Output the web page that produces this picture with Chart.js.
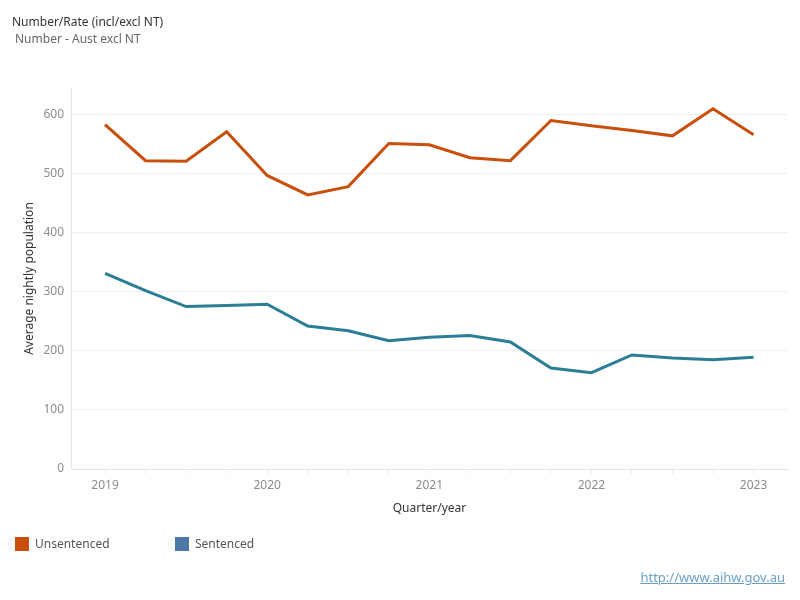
<!DOCTYPE html>
<html>
<head>
<meta charset="utf-8">
<script src="https://cdn.jsdelivr.net/npm/chart.js@4"></script>
<style>
  body { margin: 0; background: #fff; font-family: "Noto Sans", sans-serif; }
  #wrap { position: relative; width: 800px; height: 600px; }
  #grafico { position: absolute; left: 0; top: 0; }
  .titulo { position: absolute; left: 12px; top: 13px; font-size: 12px; color: #333; }
  .sub { position: absolute; left: 15px; top: 30px; font-size: 12px; color: #666; }
  .leg { position: absolute; top: 535px; font-size: 12px; color: #555; display: flex; align-items: center; }
  .leg span.box { width: 14px; height: 14px; display: inline-block; margin-right: 6px; }
  .link { position: absolute; right: 15px; top: 568px; font-size: 13px; color: #6a9fc9; text-decoration: underline; }
</style>
</head>
<body>
<div id="wrap">
  <canvas id="grafico" width="800" height="600"></canvas>
  <div class="titulo">Number/Rate (incl/excl NT)</div>
  <div class="sub">Number - Aust excl NT</div>
  <div class="leg" style="left:15px"><span class="box" style="background:#c8500c"></span>Unsentenced</div>
  <div class="leg" style="left:175px"><span class="box" style="background:#4e79a7"></span>Sentenced</div>
  <div class="link">http://www.aihw.gov.au</div>
</div>
<script>
// quarters 2019 Q1 .. 2023 Q1
const quarters = ['2019', '', '', '', '2020', '', '', '', '2021', '', '', '', '2022', '', '', '', '2023'];
const unsentenced = [583, 522, 521, 571, 497, 464, 478, 551, 549, 527, 522, 590, 581, 573, 564, 610, 566];
const sentenced = [331, 302, 275, 277, 279, 242, 234, 217, 223, 226, 215, 171, 163, 193, 188, 185, 189];
const yTicks = [0, 100, 200, 300, 400, 500, 600];

const toPoints = arr => arr.map((v, i) => ({ x: i, y: v }));

const ctxGrafico = document.getElementById('grafico').getContext('2d');
const grafico = new Chart(ctxGrafico, {
    type: 'line',
    data: {
        datasets: [{
            label: 'Unsentenced',
            data: toPoints(unsentenced),
            borderColor: '#c8500c',
            borderWidth: 3,
            pointRadius: 0,
            tension: 0
        }, {
            label: 'Sentenced',
            data: toPoints(sentenced),
            borderColor: '#2b7e96',
            borderWidth: 3,
            pointRadius: 0,
            tension: 0
        }]
    },
    options: {
        responsive: false,
        animation: false,
        layout: {
            padding: { top: 88, right: 12, bottom: 80, left: 22 }
        },
        plugins: {
            legend: { display: false },
            tooltip: { enabled: false }
        },
        scales: {
            x: {
                type: 'linear',
                min: -0.84,
                max: 16.85,
                afterBuildTicks: s => { s.ticks = quarters.map((q, i) => ({ value: i })); },
                afterFit: s => { s.height = 51; },
                grid: {
                    drawOnChartArea: false,
                    drawTicks: true,
                    tickLength: 5,
                    color: '#ececec'
                },
                border: { color: '#e4e4e4' },
                ticks: {
                    autoSkip: false,
                    maxRotation: 0,
                    padding: 4,
                    color: '#8c8c8c',
                    font: { family: 'Noto Sans', size: 12 },
                    callback: (v, i) => quarters[i]
                },
                title: {
                    display: true,
                    text: 'Quarter/year',
                    color: '#333',
                    font: { family: 'Noto Sans', size: 12 },
                    padding: { top: 0, bottom: 4 }
                }
            },
            y: {
                min: 0,
                max: 645,
                afterBuildTicks: s => { s.ticks = yTicks.map(v => ({ value: v })); },
                afterFit: s => { s.width = 49; },
                grid: { color: '#efefef', drawTicks: false },
                border: { color: '#e4e4e4' },
                ticks: {
                    padding: 7,
                    color: '#8c8c8c',
                    font: { family: 'Noto Sans', size: 12 }
                },
                title: {
                    display: true,
                    text: 'Average nightly population',
                    color: '#333',
                    font: { family: 'Noto Sans', size: 12 },
                    padding: { top: 0, bottom: 2 }
                }
            }
        }
    }
});
</script>
</body>
</html>
